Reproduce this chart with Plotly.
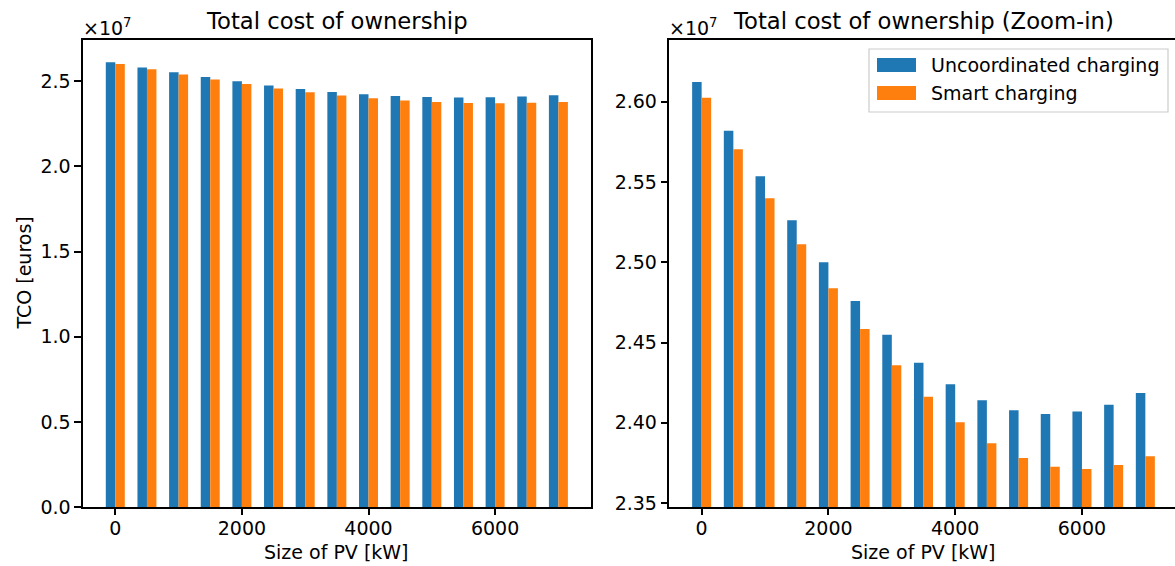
import plotly.graph_objects as go
from plotly.subplots import make_subplots

# PV sizes [kW] and total cost of ownership [euros] for both charging strategies
pv_size = [0, 500, 1000, 1500, 2000, 2500, 3000, 3500, 4000, 4500, 5000, 5500, 6000, 6500, 7000]
tco_uncoordinated = [26123000, 25819000, 25536000, 25262000, 25000000, 24759000, 24549000, 24375000,
                     24240000, 24141000, 24078000, 24055000, 24070000, 24113000, 24186000]
tco_smart = [26025000, 25704000, 25398000, 25112000, 24838000, 24585000, 24359000, 24163000,
             24004000, 23873000, 23781000, 23727000, 23713000, 23738000, 23792000]

left_ticks = [0, 5e6, 10e6, 15e6, 20e6, 25e6]
right_ticks = [23.5e6, 24.0e6, 24.5e6, 25.0e6, 25.5e6, 26.0e6]
x_ticks = [0, 2000, 4000, 6000]

BLUE = "#1f77b4"
ORANGE = "#ff7f0e"
FONT = "DejaVu Sans"
TICK_SIZE = 19
TITLE_SIZE = 22.7

W, H = 1175, 566
MT, MB = 40, 59
PLOT_H = H - MT - MB


def px_x(px):
    return px / W


def px_y(py):
    return (H - MB - py) / PLOT_H


fig = make_subplots(rows=1, cols=2)

BAR_W = 150
for col in (1, 2):
    fig.add_trace(go.Bar(x=pv_size, y=tco_uncoordinated, width=BAR_W, offset=-BAR_W,
                         marker=dict(color=BLUE, line=dict(width=0)),
                         name="Uncoordinated charging", showlegend=False), row=1, col=col)
    fig.add_trace(go.Bar(x=pv_size, y=tco_smart, width=BAR_W, offset=0,
                         marker=dict(color=ORANGE, line=dict(width=0)),
                         name="Smart charging", showlegend=False), row=1, col=col)

axis_common = dict(showline=True, linecolor="black", linewidth=1.5, ticks="outside",
                   ticklen=6.5, tickwidth=1.5, tickcolor="black", showgrid=False,
                   zeroline=False, automargin=False,
                   tickfont=dict(family=FONT, size=TICK_SIZE, color="black"))

fig.update_xaxes(**axis_common, tickvals=x_ticks, ticktext=[str(v) for v in x_ticks],
                 ticklabelstandoff=-3)
fig.update_xaxes(domain=[px_x(82.7), px_x(591)], range=[-515, 7515], mirror=True, row=1, col=1)
fig.update_xaxes(domain=[px_x(669), 1.0], range=[-515, 7468], mirror=True, row=1, col=2)

y_max_left = max(tco_uncoordinated) * 1.05
y_lo_right = min(tco_smart) * 0.99
y_hi_right = max(tco_uncoordinated) * 1.01
fig.update_yaxes(**axis_common)
fig.update_yaxes(range=[0, y_max_left], mirror=True, tickvals=left_ticks,
                 ticktext=[f"{v / 1e7:.1f}" for v in left_ticks], row=1, col=1)
fig.update_yaxes(range=[y_lo_right, y_hi_right], mirror=False, tickvals=right_ticks,
                 ticktext=[f"{v / 1e7:.2f}" for v in right_ticks], row=1, col=2)


def text_note(text, x, y, size=TICK_SIZE, xanchor="center", yanchor="middle", angle=0):
    return dict(text=text, x=px_x(x), y=px_y(y), xref="paper", yref="paper", showarrow=False,
                xanchor=xanchor, yanchor=yanchor, textangle=angle,
                font=dict(family=FONT, size=size, color="black"))


annotations = [
    # subplot titles
    text_note("Total cost of ownership", (82.7 + 591) / 2, 21.5, TITLE_SIZE),
    text_note("Total cost of ownership (Zoom-in)", (669 + 1178) / 2, 21.5, TITLE_SIZE),
    # axis titles
    text_note("Size of PV [kW]", (82.7 + 591) / 2, 552),
    text_note("Size of PV [kW]", (669 + 1178) / 2, 552),
    text_note("TCO [euros]", 23, 273.5, angle=-90),
]
# scale factor labels
for left in (82.7, 669):
    annotations.append(text_note("×10<sup>7</sup>", left - 2, 41, xanchor="left", yanchor="bottom"))

# legend
shapes = [dict(type="rect", xref="paper", yref="paper", x0=px_x(869), x1=px_x(1168),
               y0=px_y(112), y1=px_y(49), line=dict(color="#cccccc", width=1.2),
               fillcolor="rgba(255,255,255,0.8)", layer="above")]
legend_items = [("Uncoordinated charging", BLUE, 65), ("Smart charging", ORANGE, 93)]
for label, color, cy in legend_items:
    shapes.append(dict(type="rect", xref="paper", yref="paper", x0=px_x(877), x1=px_x(916),
                       y0=px_y(cy + 7), y1=px_y(cy - 7), line=dict(width=0), fillcolor=color,
                       layer="above"))
    annotations.append(text_note(label, 929, cy, xanchor="left"))

fig.update_layout(width=W, height=H, margin=dict(l=0, r=0, t=MT, b=MB),
                  plot_bgcolor="white", paper_bgcolor="white", barmode="overlay",
                  showlegend=False, annotations=annotations, shapes=shapes,
                  font=dict(family=FONT, color="black"))

fig.write_html("out.html")
